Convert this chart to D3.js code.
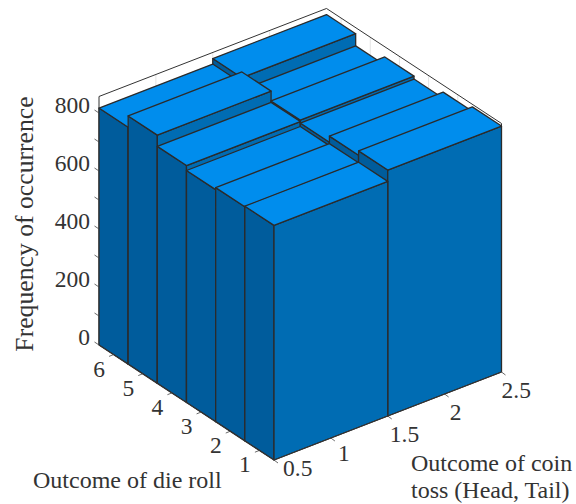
<!DOCTYPE html>
<html>
<head>
<meta charset="utf-8">
<script src="https://cdn.jsdelivr.net/npm/d3@7"></script>
<style>
  body { margin: 0; background: #fff; }
  text { font-family: "Liberation Serif", serif; fill: #333; }
</style>
</head>
<body>
<svg id="chart" width="576" height="504"></svg>
<script>
const dieOutcomes = [1, 2, 3, 4, 5, 6];
const coinOutcomes = [1, 2];
const headCounts = [809, 807, 800, 817, 856, 817];
const tailCounts = [848, 833, 812, 822, 794, 836];

const zTicks = [0, 100, 200, 300, 400, 500, 600, 700, 800];
const zLabels = [0, 200, 400, 600, 800];
const dieTicks = [1, 2, 3, 4, 5, 6];
const coinTicks = [0.5, 1, 1.5, 2, 2.5];
const coinTickNames = ['0.5', '1', '1.5', '2', '2.5'];

const dieLim = [0.5, 6.5];
const coinLim = [0.5, 2.5];
const zLim = [0, 857];

// oblique projection, each data axis moves the point along its own screen direction
const origin = {x: 274, y: 460};
const dieX = d3.scaleLinear().domain(dieLim).range([0, -175]);
const dieY = d3.scaleLinear().domain(dieLim).range([0, -115]);
const coinX = d3.scaleLinear().domain(coinLim).range([0, 227.5]);
const coinY = d3.scaleLinear().domain(coinLim).range([0, -88]);
const zY = d3.scaleLinear().domain([0, 800]).range([0, -232]);

function project(coin, die, z) {
    return [origin.x + coinX(coin) + dieX(die), origin.y + coinY(coin) + dieY(die) + zY(z)];
}

const svg = d3.select('#chart');
const pathOf = pts => 'M' + pts.map(p => p.join(',')).join('L') + 'Z';
const lineOf = d3.line();

function addLine(g, a, b, color, width) {
    g.append('path').attr('d', lineOf([a, b]))
        .attr('fill', 'none').attr('stroke', color).attr('stroke-width', width);
}

// grid on the back walls, mostly hidden by the bars
const gGrid = svg.append('g').classed('grid', true);
dieTicks.forEach(d => addLine(gGrid, project(coinLim[1], d, 0), project(coinLim[1], d, zLim[1]), '#e4e4e4', 1));
coinTicks.slice(1, 4).forEach(c => addLine(gGrid, project(c, dieLim[1], 0), project(c, dieLim[1], zLim[1]), '#e4e4e4', 1));

// axes box
const gAxes = svg.append('g').classed('axes', true);
const axisColor = '#333';
addLine(gAxes, project(coinLim[0], dieLim[1], 0), project(coinLim[0], dieLim[1], zLim[1]), axisColor, 1);
addLine(gAxes, project(coinLim[0], dieLim[1], zLim[1]), project(coinLim[1], dieLim[1], zLim[1]), axisColor, 1);
addLine(gAxes, project(coinLim[1], dieLim[1], zLim[1]), project(coinLim[1], dieLim[0], zLim[1]), axisColor, 1);
addLine(gAxes, project(coinLim[1], dieLim[0], zLim[1]), project(coinLim[1], dieLim[0], 0), axisColor, 1);

// bars, painted from the back corner to the front corner
const bars = [];
dieOutcomes.forEach((die, i) => {
    bars.push({coin: coinOutcomes[0], die: die, value: headCounts[i]});
    bars.push({coin: coinOutcomes[1], die: die, value: tailCounts[i]});
});
bars.sort((a, b) => d3.descending(a.die, b.die) || d3.descending(a.coin, b.coin));

const gBars = svg.append('g').classed('bars', true);
const edge = {stroke: '#2b2b2b', width: 1.3};
bars.forEach(b => {
    const c0 = b.coin - 0.5, c1 = b.coin + 0.5, d0 = b.die - 0.5, d1 = b.die + 0.5, h = b.value;
    const faces = [
        {pts: [project(c0, d0, 0), project(c0, d1, 0), project(c0, d1, h), project(c0, d0, h)], fill: '#005c9c'},
        {pts: [project(c0, d0, 0), project(c1, d0, 0), project(c1, d0, h), project(c0, d0, h)], fill: '#006cb3'},
        {pts: [project(c0, d0, h), project(c1, d0, h), project(c1, d1, h), project(c0, d1, h)], fill: '#008ded'}
    ];
    gBars.selectAll(null).data(faces).join('path')
        .attr('d', f => pathOf(f.pts))
        .attr('fill', f => f.fill)
        .attr('stroke', edge.stroke)
        .attr('stroke-width', edge.width)
        .attr('stroke-linejoin', 'round');
});

// ground edges and ticks
const gTicks = svg.append('g').classed('ticks', true);
addLine(gTicks, project(coinLim[0], dieLim[1], 0), project(coinLim[0], dieLim[0], 0), '#333', 1);
addLine(gTicks, project(coinLim[0], dieLim[0], 0), project(coinLim[1], dieLim[0], 0), '#333', 1);

zTicks.forEach(z => {
    const p = project(coinLim[0], dieLim[1], z);
    addLine(gTicks, p, [p[0] - 4.5, p[1] - 3], '#444', 0.8);
});
dieTicks.forEach(d => {
    const p = project(coinLim[0], d, 0);
    addLine(gTicks, p, [p[0] - 4.5, p[1] + 1.8], '#444', 0.8);
});
coinTicks.forEach(c => {
    const p = project(c, dieLim[0], 0);
    addLine(gTicks, p, [p[0] + 4, p[1] + 3], '#444', 0.8);
});

// tick labels
const gLabels = svg.append('g').classed('labels', true).style('font-size', '23.5px');
zLabels.forEach(z => {
    const p = project(coinLim[0], dieLim[1], z);
    gLabels.append('text').text(z)
        .attr('x', p[0] - 9).attr('y', p[1] - 0.5)
        .attr('text-anchor', 'end');
});
dieTicks.forEach(d => {
    const p = project(coinLim[0], d, 0);
    gLabels.append('text').text(d)
        .attr('x', p[0] - 14.5).attr('y', p[1] + 22)
        .attr('text-anchor', 'middle');
});
const coinNudge = [[9, 16], [7, 23], [2, 26], [5, 26], [0, 26]];
coinTicks.forEach((c, i) => {
    const p = project(c, dieLim[0], 0);
    gLabels.append('text').text(coinTickNames[i])
        .attr('x', p[0] + coinNudge[i][0]).attr('y', p[1] + coinNudge[i][1]);
});

// axis titles
const gTitles = svg.append('g').classed('titles', true).style('font-size', '24px');
gTitles.append('text').text('Frequency of occurrence')
    .style('font-size', '25.7px')
    .attr('transform', 'translate(33, 224) rotate(-90)')
    .attr('text-anchor', 'middle');
gTitles.append('text').text('Outcome of die roll').attr('x', 33).attr('y', 488);
gTitles.append('text').text('Outcome of coin').attr('x', 411).attr('y', 471);
gTitles.append('text').text('toss (Head, Tail)').attr('x', 411).attr('y', 498);
</script>
</body>
</html>
